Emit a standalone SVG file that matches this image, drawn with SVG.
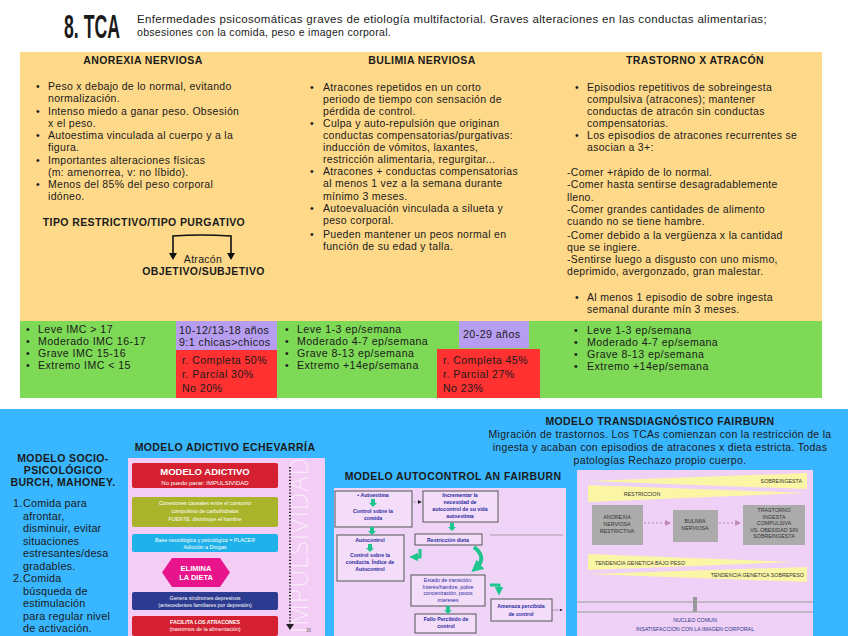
<svg xmlns="http://www.w3.org/2000/svg" width="848" height="636" viewBox="0 0 848 636">
<defs>
<style>
text{font-family:"Liberation Sans",Arial,sans-serif;fill:#1a1a1a}
.b{font-size:10.5px;letter-spacing:0.3px}
.g{font-size:10.6px;letter-spacing:0.45px}
.s{font-size:10.8px;letter-spacing:0.2px}
.h{font-size:10.5px;font-weight:bold;text-anchor:middle;letter-spacing:0.4px}
.t{font-size:5.3px;fill:#fff;text-anchor:middle}
.ac{font-size:5.2px;font-weight:bold;fill:#2a2aa0;text-anchor:middle}
.td{font-size:5.3px;fill:#333}
.ga{fill:#1fc58e}
.acbox{fill:#f3ddf8;stroke:#555;stroke-width:1}
.wedge{fill:#fbf6a6}
.grey{fill:#ababab}
</style>
<marker id="ah" viewBox="0 0 10 10" refX="8" refY="5" markerWidth="5" markerHeight="5" orient="auto"><path d="M0,0 L10,5 L0,10 z" fill="#222"/></marker>
<marker id="ahp" viewBox="0 0 10 10" refX="8" refY="5" markerWidth="5" markerHeight="5" orient="auto"><path d="M0,0 L10,5 L0,10 z" fill="#c08ab8"/></marker>
<marker id="ahg" viewBox="0 0 10 10" refX="6" refY="5" markerWidth="3" markerHeight="3" orient="auto"><path d="M0,0 L10,5 L0,10 z" fill="#1fc58e"/></marker>
<path id="gdown" d="M-2,0 H2 V4 H4 L0,8 L-4,4 H-2 Z"/>
</defs>
<rect width="848" height="636" fill="#ffffff"/>

<g id="header">
<text x="0" y="0" transform="translate(64,38) scale(0.52,1)" font-family="DejaVu Sans Condensed" font-weight="bold" font-size="34">8. TCA</text>
<text x="137" y="22.5" class="b" textLength="630" lengthAdjust="spacingAndGlyphs">Enfermedades psicosomáticas graves de etiología multifactorial. Graves alteraciones en las conductas alimentarias;</text>
<text x="137" y="35.5" class="b">obsesiones con la comida, peso e imagen corporal.</text>
</g>

<rect x="20" y="52" width="802" height="269" fill="#ffd98a"/>
<rect x="20" y="321" width="802" height="77" fill="#7ed957"/>

<g id="anorexia">
<text x="143" y="63.5" class="h">ANOREXIA NERVIOSA</text>
<g class="b">
<text x="36" y="90">•</text><text x="48" y="90">Peso x debajo de lo normal, evitando</text>
<text x="48" y="102">normalización.</text>
<text x="36" y="114.5">•</text><text x="48" y="114.5">Intenso miedo a ganar peso. Obsesión</text>
<text x="48" y="126.5">x el peso.</text>
<text x="36" y="139">•</text><text x="48" y="139">Autoestima vinculada al cuerpo y a la</text>
<text x="48" y="151">figura.</text>
<text x="36" y="163.5">•</text><text x="48" y="163.5">Importantes alteraciones físicas</text>
<text x="48" y="175.5">(m: amenorrea, v: no líbido).</text>
<text x="36" y="188">•</text><text x="48" y="188">Menos del 85% del peso corporal</text>
<text x="48" y="200">idóneo.</text>
</g>
<text x="144" y="225.5" class="h">TIPO RESTRICTIVO/TIPO PURGATIVO</text>
<text x="203" y="262.5" class="b" text-anchor="middle">Atracón</text>
<text x="203.5" y="275" class="h">OBJETIVO/SUBJETIVO</text>
</g>

<g id="bulimia">
<text x="422" y="63.5" class="h">BULIMIA NERVIOSA</text>
<g class="b">
<text x="310" y="90.5">•</text><text x="323" y="90.5">Atracones repetidos en un corto</text>
<text x="323" y="102.5">periodo de tiempo con sensación de</text>
<text x="323" y="114.5">pérdida de control.</text>
<text x="310" y="126.5">•</text><text x="323" y="126.5">Culpa y auto-repulsión que originan</text>
<text x="323" y="138.5">conductas compensatorias/purgativas:</text>
<text x="323" y="150.5">inducción de vómitos, laxantes,</text>
<text x="323" y="162.5">restricción alimentaria, regurgitar...</text>
<text x="310" y="175">•</text><text x="323" y="175">Atracones + conductas compensatorias</text>
<text x="323" y="187">al menos 1 vez a la semana durante</text>
<text x="323" y="199.5">mínimo 3 meses.</text>
<text x="310" y="212">•</text><text x="323" y="212">Autoevaluación vinculada a silueta y</text>
<text x="323" y="224">peso corporal.</text>
<text x="310" y="237.5">•</text><text x="323" y="237.5">Pueden mantener un peos normal en</text>
<text x="323" y="249.5">función de su edad y talla.</text>
</g>
</g>

<g id="atracon">
<text x="695" y="63.5" class="h">TRASTORNO X ATRACÓN</text>
<g class="b">
<text x="575" y="90.5">•</text><text x="587" y="90.5">Episodios repetitivos de sobreingesta</text>
<text x="587" y="102.5">compulsiva (atracones); mantener</text>
<text x="587" y="114.5">conductas de atracón sin conductas</text>
<text x="587" y="126.5">compensatorias.</text>
<text x="575" y="138.5">•</text><text x="587" y="138.5">Los episodios de atracones recurrentes se</text>
<text x="587" y="150.5">asocian a 3+:</text>
<text x="567" y="175.5">-Comer +rápido de lo normal.</text>
<text x="567" y="188">-Comer hasta sentirse desagradablemente</text>
<text x="567" y="200.5">lleno.</text>
<text x="567" y="213">-Comer grandes cantidades de alimento</text>
<text x="567" y="225">cuando no se tiene hambre.</text>
<text x="567" y="238.5">-Comer debido a la vergüenza x la cantidad</text>
<text x="567" y="250.5">que se ingiere.</text>
<text x="567" y="262.5">-Sentirse luego a disgusto con uno mismo,</text>
<text x="567" y="275">deprimido, avergonzado, gran malestar.</text>
<text x="575" y="300.5">•</text><text x="587" y="300.5">Al menos 1 episodio de sobre ingesta</text>
<text x="587" y="312.5">semanal durante mín 3 meses.</text>
</g>
</g>

<g id="green-row">
<g class="g">
<text x="26" y="332.5">•</text><text x="38" y="332.5">Leve IMC &gt; 17</text>
<text x="26" y="344.5">•</text><text x="38" y="344.5">Moderado IMC 16-17</text>
<text x="26" y="356.5">•</text><text x="38" y="356.5">Grave IMC 15-16</text>
<text x="26" y="368.5">•</text><text x="38" y="368.5">Extremo IMC &lt; 15</text>
</g>
<g id="edad-an"><rect x="176" y="321" width="101" height="29" fill="#b69df0"/>
<text x="179" y="333.5" class="g">10-12/13-18 años</text>
<text x="179" y="345.5" class="g">9:1 chicas&gt;chicos</text></g>
<g id="recup-an"><rect x="176" y="350" width="101" height="48" fill="#ff3131"/>
<text x="182" y="363.5" class="g">r. Completa 50%</text>
<text x="182" y="377.5" class="g">r. Parcial 30%</text>
<text x="182" y="392" class="g">No 20%</text></g>
<g class="g">
<text x="285" y="332.5">•</text><text x="297" y="332.5">Leve 1-3 ep/semana</text>
<text x="285" y="344.5">•</text><text x="297" y="344.5">Moderado 4-7 ep/semana</text>
<text x="285" y="356.5">•</text><text x="297" y="356.5">Grave 8-13 ep/semana</text>
<text x="285" y="368.5">•</text><text x="297" y="368.5">Extremo +14ep/semana</text>
</g>
<g id="edad-bn"><rect x="459" y="321" width="70" height="27" fill="#b69df0"/>
<text x="463" y="337.5" class="g">20-29 años</text></g>
<g id="recup-bn"><rect x="437" y="349" width="103" height="49" fill="#ff3131"/>
<text x="443" y="363.5" class="g">r. Completa 45%</text>
<text x="443" y="377.5" class="g">r. Parcial 27%</text>
<text x="443" y="392" class="g">No 23%</text></g>
<g class="g">
<text x="574" y="333.5">•</text><text x="587" y="333.5">Leve 1-3 ep/semana</text>
<text x="574" y="345.5">•</text><text x="587" y="345.5">Moderado 4-7 ep/semana</text>
<text x="574" y="357.5">•</text><text x="587" y="357.5">Grave 8-13 ep/semana</text>
<text x="574" y="369.5">•</text><text x="587" y="369.5">Extremo +14ep/semana</text>
</g>
</g>

<rect x="0" y="409" width="848" height="227" fill="#38b6ff"/>

<g id="socio">
<text x="63" y="462" class="h">MODELO SOCIO-</text>
<text x="63" y="474" class="h">PSICOLÓGICO</text>
<text x="63" y="486" class="h">BURCH, MAHONEY.</text>
<g class="s">
<text x="13" y="507">1.</text><text x="23" y="507">Comida para</text>
<text x="23" y="519.5">afrontar,</text>
<text x="23" y="532">disminuir, evitar</text>
<text x="23" y="544.5">situaciones</text>
<text x="23" y="557">estresantes/desa</text>
<text x="23" y="569.5">gradables.</text>
<text x="13" y="582">2.</text><text x="23" y="582">Comida</text>
<text x="23" y="594.5">búsqueda de</text>
<text x="23" y="607">estimulación</text>
<text x="23" y="619.5">para regular nivel</text>
<text x="23" y="632">de activación.</text>
</g>
</g>

<g id="modelo-adictivo">
<text x="225" y="450.5" class="h">MODELO ADICTIVO ECHEVARRÍA</text>
<rect x="128" y="458" width="197" height="178" fill="#f3cdf5"/>
<text x="308" y="545" transform="rotate(-90 308 545)" text-anchor="middle" style="font-family:'Open Sans',sans-serif;font-size:25px;font-weight:300;fill:#fbeafb;letter-spacing:1px">IMPULSIVIDAD</text>
<g id="ad-modelo"><rect x="132" y="463" width="146" height="25" rx="2" fill="#d42030"/>
<text x="205" y="475" class="t" style="font-size:9.5px;font-weight:bold">MODELO ADICTIVO</text>
<text x="205" y="484.5" class="t" style="font-size:6px">No puedo parar: IMPULSIVIDAD</text></g>
<g id="ad-conexiones"><rect x="132" y="497" width="146" height="30" rx="2" fill="#a9b42a"/>
<text x="205" y="505" class="t">Conexiones causales entre el consumo</text>
<text x="205" y="513" class="t">compulsivo de carbohidratos</text>
<text x="205" y="521" class="t">FUENTE: disminuye el hambre</text></g>
<g id="ad-base"><rect x="132" y="534" width="146" height="18" rx="2" fill="#1fb1ea"/>
<text x="205" y="541.5" class="t">Base neurológica y psicológica = PLACER</text>
<text x="205" y="549" class="t">Adicción a Drogas</text></g>
<g id="ad-elimina"><polygon points="162,572.5 172,558 220,558 230,572.5 220,587 172,587" fill="#e8148c"/>
<text x="196" y="571" class="t" style="font-size:7.5px;font-weight:bold">ELIMINA</text>
<text x="196" y="580" class="t" style="font-size:7.5px;font-weight:bold">LA DIETA</text></g>
<g id="ad-genera"><rect x="132" y="592" width="146" height="18" rx="2" fill="#2c3b8f"/>
<text x="205" y="599.5" class="t">Genera síndromes depresivos</text>
<text x="205" y="607" class="t">(antecedentes familiares por depresión)</text></g>
<g id="ad-facilita"><rect x="132" y="616" width="146" height="20" rx="2" fill="#d42030"/>
<text x="205" y="623.5" class="t" style="font-weight:bold">FACILITA LOS ATRACONES</text>
<text x="205" y="631" class="t">(trastornos de la alimentación)</text></g>
<text x="306" y="632" style="font-size:4.5px;fill:#666">36</text>
</g>

<g id="modelo-autocontrol">
<text x="453" y="480" class="h">MODELO AUTOCONTROL AN FAIRBURN</text>
<rect x="334" y="488" width="232" height="148" fill="#f0d4f7"/>
<g id="ac-autoestima"><rect x="335" y="491" width="77" height="36" class="acbox"/>
<text x="373" y="497" class="ac">• Autoestima</text>
<text x="373" y="513" class="ac">Control sobre la</text>
<text x="373" y="520" class="ac">comida</text></g>
<g id="ac-incrementar"><rect x="423" y="491" width="75" height="31" class="acbox"/>
<text x="460" y="497" class="ac">Incrementar la</text>
<text x="460" y="504" class="ac">necesidad de</text>
<text x="460" y="511" class="ac">autocontrol de su vida</text>
<text x="460" y="518" class="ac">autoestima</text></g>
<g id="ac-autocontrol"><rect x="337" y="535" width="67" height="46" class="acbox"/>
<text x="370" y="541.5" class="ac">Autocontrol</text>
<text x="370" y="557" class="ac">Control sobre la</text>
<text x="370" y="564" class="ac">conducta. Índice de</text>
<text x="370" y="571" class="ac">Autocontrol</text></g>
<g id="ac-restriccion"><rect x="415" y="534" width="67" height="11" class="acbox"/>
<text x="448" y="541.5" class="ac">Restricción dieta</text></g>
<g id="ac-estado"><rect x="411" y="575" width="74" height="31" class="acbox"/>
<text x="448" y="581.5" class="ac" style="font-weight:normal">Estado de transición:</text>
<text x="448" y="588.5" class="ac" style="font-weight:normal">Interés/hambre, pobre</text>
<text x="448" y="595" class="ac" style="font-weight:normal">concentración, pocos</text>
<text x="448" y="601.5" class="ac" style="font-weight:normal">intereses</text></g>
<g id="ac-fallo"><rect x="415" y="614" width="61" height="19" class="acbox"/>
<text x="446" y="621" class="ac">Fallo Percibido de</text>
<text x="446" y="628" class="ac">control</text></g>
<g id="ac-amenaza"><rect x="491" y="599" width="61" height="22" class="acbox"/>
<text x="521" y="608" class="ac">Amenaza percibida</text>
<text x="521" y="616" class="ac">de control</text></g>
</g>

<g id="modelo-transdiagnostico">
<text x="660" y="425" class="h">MODELO TRANSDIAGNÓSTICO FAIRBURN</text>
<text x="660" y="438" class="b" text-anchor="middle">Migración de trastornos. Los TCAs comienzan con la restricción de la</text>
<text x="660" y="451" class="b" text-anchor="middle">ingesta y acaban con episodios de atracones x dieta estricta. Todas</text>
<text x="660" y="464" class="b" text-anchor="middle">patologías Rechazo propio cuerpo.</text>
<rect x="577" y="470" width="236" height="166" fill="#efd0f6"/>
<polygon points="588,481 807,473 807,489" class="wedge"/>
<polygon points="588,485 588,502 807,493" class="wedge"/>
<polygon points="588,554 588,570 795,562" class="wedge"/>
<polygon points="588,574 807,567 807,582" class="wedge"/>
<text x="802" y="483" class="td" text-anchor="end">SOBREINGESTA</text>
<text x="642" y="496" class="td" text-anchor="middle">RESTRICCION</text>
<text x="640" y="565" class="td" text-anchor="middle">TENDENCIA GENETICA BAJO PESO</text>
<text x="804" y="577" class="td" text-anchor="end">TENDENCIA GENETICA SOBREPESO</text>
<g id="td-anorexia"><rect x="592" y="505" width="51" height="40" class="grey"/>
<text x="617" y="519" class="td" text-anchor="middle">ANOREXIA</text>
<text x="617" y="526" class="td" text-anchor="middle">NERVIOSA</text>
<text x="617" y="533" class="td" text-anchor="middle">RESTRICTIVA</text></g>
<g id="td-bulimia"><rect x="673" y="510" width="45" height="32" class="grey"/>
<text x="695" y="523" class="td" text-anchor="middle">BULIMIA</text>
<text x="695" y="530" class="td" text-anchor="middle">NERVIOSA</text></g>
<g id="td-trastorno"><rect x="743" y="505" width="62" height="40" class="grey"/>
<text x="774" y="512" class="td" text-anchor="middle">TRASTORNO</text>
<text x="774" y="518.5" class="td" text-anchor="middle">INGESTA</text>
<text x="774" y="525" class="td" text-anchor="middle">COMPULSIVA</text>
<text x="774" y="531.5" class="td" text-anchor="middle">VS. OBESIDAD SIN</text>
<text x="774" y="538" class="td" text-anchor="middle">SOBREINGESTA</text></g>
<line x1="577" y1="602" x2="813" y2="602" stroke="#999" stroke-width="1"/>
<line x1="577" y1="612" x2="813" y2="612" stroke="#999" stroke-width="1"/>
<rect x="693" y="597" width="4" height="15" fill="#999"/>
<text x="695" y="622" class="td" text-anchor="middle" style="fill:#2a3a8a">NUCLEO COMUN</text>
<text x="695" y="631" class="td" text-anchor="middle" style="fill:#2a3a8a">INSATISFACCION CON LA IMAGEN CORPORAL</text>
</g>

<g id="connectors">
<path d="M173,257 V236 Q200,234 231,236 V257" fill="none" stroke="#111" stroke-width="1.6"/>
<polygon points="169,253 177,253 173,260" fill="#111"/>
<polygon points="227,253 235,253 231,260" fill="#111"/>
<line x1="290" y1="467" x2="290" y2="625" stroke="#222" stroke-width="2" stroke-dasharray="1.2 2"/>
<polygon points="286,624 294,624 290,630" fill="#222"/>
<use href="#gdown" x="373" y="499" class="ga"/>
<use href="#gdown" x="372" y="527" class="ga"/>
<use href="#gdown" x="370" y="544" class="ga"/>
<use href="#gdown" x="452" y="523" class="ga"/>
<use href="#gdown" x="448" y="606" class="ga"/>
<path d="M412,502 H421" stroke="#888" stroke-width="0.8" stroke-dasharray="1.5 1" marker-end="url(#ah)"/>
<path d="M474,547 Q488,558 475,569" fill="none" stroke="#1fc58e" stroke-width="4" marker-end="url(#ahg)"/>
<path d="M420,549 V557 H413" fill="none" stroke="#1fc58e" stroke-width="3" marker-end="url(#ahg)"/>
<path d="M490,585 H499 V592" fill="none" stroke="#1fc58e" stroke-width="3" marker-end="url(#ahg)"/>
<path d="M490,535 H563" stroke="#777" stroke-width="0.6"/>
<path d="M552,610 H562" stroke="#777" stroke-width="0.6" marker-end="url(#ah)"/>
<path d="M644,523 H670" stroke="#c08ab8" stroke-width="1.2" stroke-dasharray="2 2" marker-end="url(#ahp)"/>
<path d="M719,523 H740" stroke="#c08ab8" stroke-width="1.2" stroke-dasharray="2 2" marker-end="url(#ahp)"/>
</g>
</svg>
